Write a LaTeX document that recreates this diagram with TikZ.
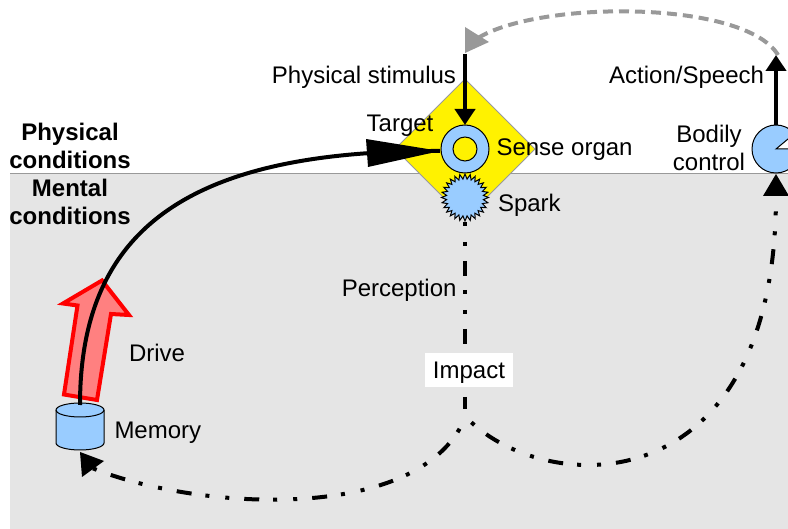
\documentclass[tikz,border=0pt]{standalone}
\usepackage{fontspec}
\setmainfont{Liberation Sans}
\usetikzlibrary{arrows.meta,shapes.geometric}
\definecolor{partblue}{HTML}{99CCFF}
\definecolor{bggray}{HTML}{E5E5E5}
\definecolor{linegray}{HTML}{999999}
\definecolor{drivered}{HTML}{FF8080}
\tikzset{
  lbl/.style={font=\fontsize{24}{28}\selectfont,inner sep=0pt,outer sep=0pt,text=black},
  headtxt/.style={font=\fontsize{24}{28}\selectfont\bfseries,inner sep=0pt,outer sep=0pt,align=center},
  part/.style={circle,draw=black,fill=partblue,line width=1pt,inner sep=0pt,outer sep=0pt},
  solidarrow/.style={draw=black,line width=4pt,-{Triangle[length=16pt,width=20pt]}},
  dashdot/.style={draw=black,line width=4pt,dash pattern=on 15pt off 14pt on 4pt off 16pt on 4pt off 15pt},
}
\begin{document}
\begin{tikzpicture}[x=1pt,y=-1pt]
\useasboundingbox (0,0) rectangle (788,529);
\clip (0,0) rectangle (788,529);
\fill[bggray] (10,173) rectangle (788,529);
\draw[linegray,line width=1pt] (10,173.5) -- (788,173.5);
% diamond
\filldraw[fill=yellow,draw=linegray,line width=1pt] (465,79) -- (535,149) -- (465,219) -- (395,149) -- cycle;
% named points
\coordinate (stimtop) at (465,54);
\coordinate (memtop) at (80,405);
\coordinate (joinl) at (465,418);
\coordinate (joinr) at (465,416);
\coordinate (memfoot) at (92,468);
\coordinate (ctrlbase) at (776,197);
\coordinate (graystart) at (778,55);
\coordinate (grayend) at (478,38);
\coordinate (vtop) at (465,222);
\coordinate (vend) at (465,409);
\coordinate (tip) at (440,151);
% dash-dot lines
\draw[dashdot,dash phase=29pt] (vtop) -- (vend);
\draw[dashdot,dash phase=48pt] (memfoot) .. controls (195,510) and (420,525) .. (joinl);
\draw[dashdot,dash phase=40pt] (joinr) .. controls (540,497) and (775,510) .. (ctrlbase);
\fill[black] (80,452) -- (104,461) -- (82,477) -- cycle;
\fill[black] (776,174) -- (789,196) -- (763,196) -- cycle;
% red arrow
\filldraw[fill=drivered,draw=red,line width=4pt,miter limit=10] (102,280.5) -- (129,315) -- (111,314) -- (97,400) -- (64,394.5) -- (77.5,305.5) -- (63,303.5) -- cycle;
% memory
\filldraw[fill=partblue,draw=black,line width=1pt] (56,410) -- (56,443) arc[start angle=180,end angle=360,x radius=24,y radius=-7] -- (104,410) arc[start angle=0,end angle=180,x radius=24,y radius=-7] -- cycle;
\draw[black,line width=1pt] (56,410) arc[start angle=180,end angle=360,x radius=24,y radius=-7];
% ring & spark
\node[part,minimum size=48pt] (organ) at (465,149) {};
\node[circle,draw=black,fill=yellow,line width=1pt,inner sep=0pt,minimum size=24pt] (organin) at (465,149) {};
\node[star,star points=28,star point ratio=1.27,draw=black,fill=partblue,line width=1pt,inner sep=0pt,minimum size=47pt] (spark) at (465,197.5) {};
% bodily control
\node[part,minimum size=48pt] (ctrl) at (776,149) {};
\filldraw[fill=white,draw=black,line width=1pt] (ctrl.center) -- (800,149) -- (800,129) -- cycle;
% solid arrows
\draw[solidarrow] (stimtop) -- (organ.north);
\draw[solidarrow] (ctrl.north) -- (776,55);
\draw[draw=black,line width=4pt] (memtop) .. controls (80,228) and (190,150) .. (tip);
\fill[black] (366,139) -- (tip) -- (368,167) -- cycle;
% gray feedback
\draw[linegray,line width=4pt,dash pattern=on 10pt off 6pt] (graystart) .. controls (745,0) and (540,0) .. (grayend);
\fill[linegray] (465,27) -- (489,42) -- (465,53) -- cycle;
% labels
\node[lbl,anchor=base east] (lstim) at (456,84) {Physical stimulus};
\node[lbl,anchor=base east] (laction) at (764,84) {Action/Speech};
\node[lbl,anchor=base] (ltarget) at (400,132) {Target};
\node[lbl,anchor=base west] (lsense) at (496.5,156) {Sense organ};
\node[lbl,anchor=base west] (lspark) at (498,212) {Spark};
\node[lbl,anchor=center,align=center] (lbody) at (709,148) {Bodily\\control};
\node[lbl,anchor=base east] (lperc) at (456.5,297) {Perception};
\node[lbl,fill=white,inner xsep=7pt,inner ysep=0pt,text height=17pt,text depth=0pt,minimum height=34pt,minimum width=88pt] (limpact) at (469,370) {Impact};
\node[lbl,anchor=base west] (ldrive) at (129,362) {Drive};
\node[lbl,anchor=base west] (lmem) at (114.5,439) {Memory};
\node[headtxt] (lphys) at (70,146) {Physical\\conditions};
\node[headtxt] (lment) at (70,202) {Mental\\conditions};
\end{tikzpicture}
\end{document}
